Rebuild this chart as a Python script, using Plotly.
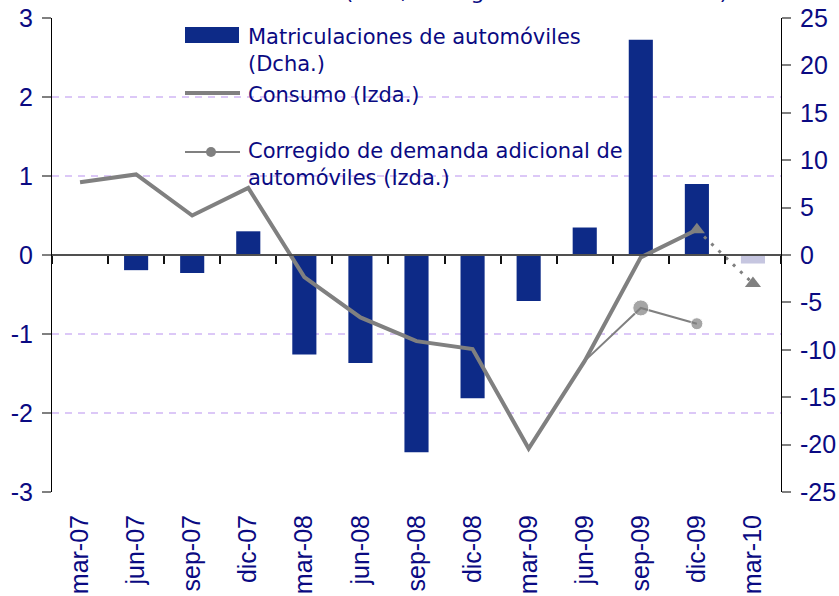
import plotly.graph_objects as go

# ---------------- data ----------------
quarters = ["mar-07", "jun-07", "sep-07", "dic-07", "mar-08", "jun-08", "sep-08",
            "dic-08", "mar-09", "jun-09", "sep-09", "dic-09", "mar-10"]
matriculaciones = [None, -1.6, -1.9, 2.5, -10.5, -11.4, -20.8, -15.1, -4.85, 2.9, 22.7, 7.5, -0.9]
consumo_quarters = quarters[:12]
consumo = [0.92, 1.02, 0.50, 0.85, -0.28, -0.79, -1.09, -1.19, -2.45, -1.34, -0.03, 0.32]
prevision_quarters = ["dic-09", "mar-10"]
prevision = [0.32, -0.36]
corregido_quarters = ["jun-09", "sep-09", "dic-09"]
corregido = [-1.34, -0.67, -0.87]
corregido_sizes = [0, 16, 12]
left_ticks = [-3, -2, -1, 0, 1, 2, 3]
right_ticks = [-25, -20, -15, -10, -5, 0, 5, 10, 15, 20, 25]

NAVY = "#0d2a87"
LAVENDER_BAR = "#c6c6e0"
GREY = "#808080"
TXT = "#0a0a82"
GRID = "#dcc8f7"

W, H = 839, 596
L, R, T, B = 52, 58, 18, 104
PW, PH = W - L - R, H - T - B


def px(x):
    return (x - L) / PW


def py(y):
    return (H - B - y) / PH


bar_colors = [NAVY] * (len(quarters) - 1) + [LAVENDER_BAR]

fig = go.Figure()

fig.add_trace(go.Bar(
    x=quarters, y=matriculaciones, xaxis="x", yaxis="y",
    marker=dict(color=bar_colors, line=dict(width=0)),
    width=0.43, showlegend=False, name="Matriculaciones de automóviles (Dcha.)",
))

# invisible helper trace for the zero-line axis with category-boundary ticks
fig.add_trace(go.Scatter(
    x=quarters, y=[0] * len(quarters), xaxis="x2", yaxis="y",
    mode="markers", marker=dict(opacity=0), hoverinfo="skip", showlegend=False,
))

fig.add_trace(go.Scatter(
    x=consumo_quarters, y=consumo, xaxis="x", yaxis="y2",
    mode="lines", line=dict(color=GREY, width=4), showlegend=False,
    name="Consumo (Izda.)",
))

fig.add_trace(go.Scatter(
    x=prevision_quarters, y=prevision, xaxis="x", yaxis="y2",
    mode="lines+markers", line=dict(color=GREY, width=3, dash="3px,7px"),
    marker=dict(symbol="triangle-up", size=14, color=GREY),
    showlegend=False,
))

fig.add_trace(go.Scatter(
    x=corregido_quarters, y=corregido, xaxis="x", yaxis="y2",
    mode="lines+markers", line=dict(color=GREY, width=2),
    marker=dict(symbol="circle", size=corregido_sizes, color=GREY),
    showlegend=False, name="Corregido de demanda adicional de automóviles (Izda.)",
))

tickfont = dict(family="Liberation Sans, Arial, sans-serif", size=25, color=TXT)

fig.update_layout(
    width=W, height=H,
    margin=dict(l=L, r=R, t=T, b=B, pad=0, autoexpand=False),
    paper_bgcolor="white", plot_bgcolor="white",
    showlegend=False,
    xaxis=dict(
        type="category", categoryorder="array", categoryarray=quarters,
        range=[-0.5, len(quarters) - 0.5], anchor="y", automargin=False,
        showline=False, showgrid=False, zeroline=False, ticks="",
        tickangle=-90, tickfont=tickfont, ticklabelstandoff=17,
    ),
    xaxis2=dict(
        type="category", categoryorder="array", categoryarray=quarters,
        range=[-0.5, len(quarters) - 0.5], overlaying="x", anchor="free", position=0.5,
        showticklabels=False, showgrid=False, zeroline=False, automargin=False,
        showline=True, linecolor="#505050", linewidth=1.5,
        ticks="outside", tickson="boundaries", ticklen=8, tickwidth=1.5, tickcolor="#111111",
    ),
    yaxis=dict(
        range=[-25, 25], tickvals=right_ticks, ticktext=[str(v) for v in right_ticks],
        side="right", anchor="x", automargin=False,
        showline=True, linecolor="#000000", linewidth=1,
        ticks="outside", ticklen=9, tickwidth=1.5, tickcolor=GREY,
        showgrid=False, zeroline=False, tickfont=tickfont, ticklabelstandoff=4,
    ),
    yaxis2=dict(
        range=[-3, 3], tickvals=left_ticks, ticktext=[str(v) for v in left_ticks],
        side="left", overlaying="y", anchor="x", automargin=False,
        showline=True, linecolor="#000000", linewidth=1,
        ticks="outside", ticklen=9, tickwidth=1.5, tickcolor=GREY,
        showgrid=True, gridcolor=GRID, gridwidth=1.5, griddash="7px,6px",
        zeroline=False, tickfont=tickfont, ticklabelstandoff=4,
    ),
    yaxis3=dict(
        range=[-25, 25], tickvals=right_ticks, side="right", overlaying="y", anchor="x",
        showline=False, ticks="inside", ticklen=8, tickwidth=1.5, tickcolor=GREY,
        showticklabels=False, showgrid=False, zeroline=False, automargin=False,
    ),
)

lfont = dict(family="DejaVu Sans, Verdana, sans-serif", size=21, color=TXT)

# title of the original chart, cut off at the top edge as in the source picture
fig.add_annotation(
    xref="paper", yref="paper", x=px(134), y=py(4.5), xanchor="left", yanchor="bottom",
    text="Consumo nacional (tasa, corregida de estacionalidad)", showarrow=False,
    font=dict(family="DejaVu Sans, Verdana, sans-serif", size=22, color=TXT), borderpad=0,
)

# legend (drawn manually to match the original key)
fig.add_shape(type="rect", xref="paper", yref="paper",
              x0=px(185), x1=px(239), y0=py(43), y1=py(27),
              fillcolor=NAVY, line=dict(width=0))
fig.add_shape(type="line", xref="paper", yref="paper",
              x0=px(185), x1=px(240), y0=py(93), y1=py(93),
              line=dict(color=GREY, width=4))
fig.add_shape(type="line", xref="paper", yref="paper",
              x0=px(185), x1=px(240), y0=py(152), y1=py(152),
              line=dict(color=GREY, width=2))
fig.add_shape(type="circle", xref="paper", yref="paper",
              x0=px(206), x1=px(216), y0=py(157), y1=py(147),
              fillcolor=GREY, line=dict(width=0))

legend_texts = [
    ("Matriculaciones de automóviles<br>(Dcha.)", 23.5),
    ("Consumo (Izda.)", 82.5),
    ("Corregido de demanda adicional de<br>automóviles (Izda.)", 138.5),
]
for txt, top in legend_texts:
    fig.add_annotation(
        xref="paper", yref="paper", x=px(247), y=py(top), xanchor="left", yanchor="top",
        align="left", text=txt, showarrow=False, font=lfont, borderpad=0,
    )

# remove the default page margin so the figure fills the 839x596 window exactly
fig.write_html(
    "out.html",
    config={"displayModeBar": False},
    post_script="document.body.style.margin='0';document.body.style.overflow='hidden';",
)
